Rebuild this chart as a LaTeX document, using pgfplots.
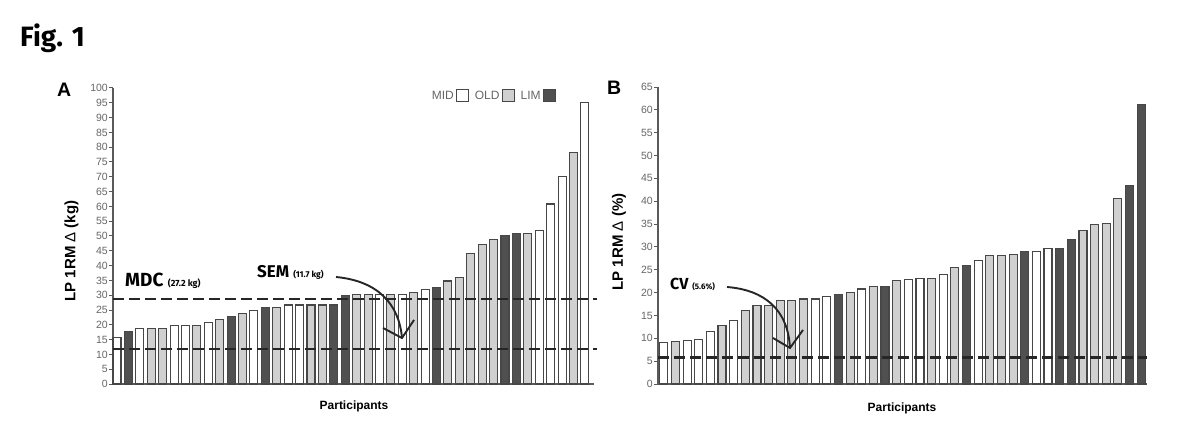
\documentclass[border=0pt]{standalone}
\usepackage{pgfplots}
\pgfplotsset{compat=1.18}
\usepackage{fontspec}
\setmainfont{Liberation Sans}
\newfontfamily\fira{Fira Sans}
\definecolor{lg}{HTML}{D0D0D0}
\definecolor{dg}{HTML}{505050}
\definecolor{ol}{HTML}{474747}
\definecolor{tk}{HTML}{5A5A5A}
\pgfplotsset{
  figax/.style={
    scale only axis,
    axis x line=bottom, axis y line=left,
    axis line style={-, draw=tk, line width=1.3pt},
    xtick=\empty,
    ymin=0,
    tick align=outside,
    major tick length=4pt,
    y tick style={draw=tk, line width=1pt},
    yticklabel style={font=\fontsize{10.5}{10}\selectfont, text=black!60, inner sep=1pt},
    /pgf/number format/assume math mode=true,
    clip=false,
  },
  wbar/.style={ybar, bar width=8pt, bar shift=0pt, fill=white, draw=ol, line width=1.1pt},
  lbar/.style={ybar, bar width=8pt, bar shift=0pt, fill=lg, draw=ol, line width=1.1pt},
  dbar/.style={ybar, bar width=8pt, bar shift=0pt, fill=dg, draw=ol, line width=1.1pt},
  dline/.style={forget plot, no marks, draw=black!85, line width=2.3pt, dash pattern=on 11pt off 5pt},
}
\begin{document}
\begin{tikzpicture}[x=1pt,y=1pt]
\path[use as bounding box] (0,0) rectangle (1200,426);
% Panel A
\begin{axis}[figax, at={(113pt,42pt)}, anchor=south west,
  width=481pt, height=296pt, xmin=-0.35, xmax=41.8, ymax=100,
  ytick={0,5,...,100},
  legend plot pos=right,
  legend columns=-1,
  legend image code/.code={\draw[#1] (0pt,-6pt) rectangle (12pt,6pt);},
  legend style={draw=none, fill=none, at={(rel axis cs:0.922,1.0)}, anchor=north east,
    font=\fontsize{12}{12}\selectfont, text=black!60, inner sep=0pt,
    /tikz/every even column/.append style={column sep=3pt},
    nodes={inner sep=2.5pt}},
]
\addplot[wbar] coordinates {(0,15.7)(2,18.8)(5,19.7)(6,19.7)(8,20.8)(12,24.8)(15,26.7)(16,26.7)(23,30.1)(25,30.1)(27,31.8)(37,52.0)(38,60.8)(39,70.0)(41,95.2)};
\addlegendentry{MID}
\addplot[lbar] coordinates {(3,18.8)(4,18.8)(7,19.7)(9,21.8)(11,23.9)(14,25.8)(17,26.7)(18,26.7)(21,30.1)(22,30.1)(24,30.1)(26,31.0)(29,34.8)(30,35.9)(31,44.1)(32,47.1)(33,48.9)(36,50.9)(40,78.2)};
\addlegendentry{OLD}
\addplot[dbar] coordinates {(1,17.7)(10,22.7)(13,25.8)(19,26.7)(20,29.8)(28,32.7)(34,50.1)(35,50.9)};
\addlegendentry{LIM}
\addplot[dline] coordinates {(-0.35,28.7) (42.1,28.7)};
\addplot[dline] coordinates {(-0.35,11.8) (42.1,11.8)};
\end{axis}
% Panel B
\begin{axis}[figax, at={(658pt,42pt)}, anchor=south west,
  width=489pt, height=297pt, xmin=-0.5, xmax=41.5, ymax=65,
  ytick={0,5,...,65},
]
\addplot[wbar] coordinates {(0,9.1)(2,9.6)(3,9.8)(4,11.5)(6,13.9)(13,18.6)(14,19.2)(17,20.8)(21,22.9)(22,23.1)(24,24.0)(27,27.0)(32,29.0)(33,29.7)};
\addplot[lbar] coordinates {(1,9.35)(5,12.8)(7,16.1)(8,17.1)(9,17.1)(10,18.2)(11,18.2)(12,18.6)(16,20.0)(18,21.4)(20,22.6)(23,23.1)(25,25.5)(28,28.1)(29,28.2)(30,28.4)(36,33.5)(37,34.9)(38,35.1)(39,40.6)};
\addplot[dbar] coordinates {(15,19.6)(19,21.4)(26,25.9)(31,29.0)(34,29.7)(35,31.7)(40,43.5)(41,61.2)};
\addplot[dline] coordinates {(-0.5,5.8) (41.5,5.8)};
\end{axis}
% titles and labels
\node[anchor=base west, inner sep=0pt, font=\fira\bfseries\fontsize{28}{28}\selectfont] at (20,379) {Fig. 1};
\node[anchor=base west, inner sep=0pt, font=\bfseries\fontsize{19.5}{20}\selectfont] at (57,329) {A};
\node[anchor=base west, inner sep=0pt, font=\bfseries\fontsize{19.5}{20}\selectfont] at (607,331) {B};
\node[rotate=90, inner sep=0pt, font=\bfseries\fontsize{15}{15}\selectfont] at (71.5,175) {LP 1RM \textmd{Δ} (kg)};
\node[rotate=90, inner sep=0pt, font=\bfseries\fontsize{15}{15}\selectfont] at (619,184) {LP 1RM \textmd{Δ} (\%)};
\node[inner sep=0pt, font=\bfseries\fontsize{12}{12}\selectfont] at (354,20) {Participants};
\node[inner sep=0pt, font=\bfseries\fontsize{12}{12}\selectfont] at (902,18) {Participants};
% annotations
\node[anchor=base west, inner sep=0pt] at (125,139) {\fira\bfseries\fontsize{19}{19}\selectfont MDC \fontsize{9}{9}\selectfont(27.2 kg)};
\node[anchor=base west, inner sep=0pt] at (257,148) {\fira\bfseries\fontsize{17}{17}\selectfont SEM \fontsize{8.5}{9}\selectfont(11.7 kg)};
\node[anchor=base west, inner sep=0pt] at (670,136) {\fira\bfseries\fontsize{16}{16}\selectfont CV \fontsize{8}{8}\selectfont(5.6\%)};
\draw[line width=1.9pt, black!85] (336,149) .. controls (378,145) and (399,122) .. (402,88);
\draw[line width=1.9pt, black!85] (383,98) -- (402,88) -- (414,106);
\draw[line width=1.9pt, black!85] (727,139) .. controls (765,136) and (788,116) .. (790,78);
\draw[line width=1.9pt, black!85] (773,88) -- (790,78) -- (803,96);
\end{tikzpicture}
\end{document}
